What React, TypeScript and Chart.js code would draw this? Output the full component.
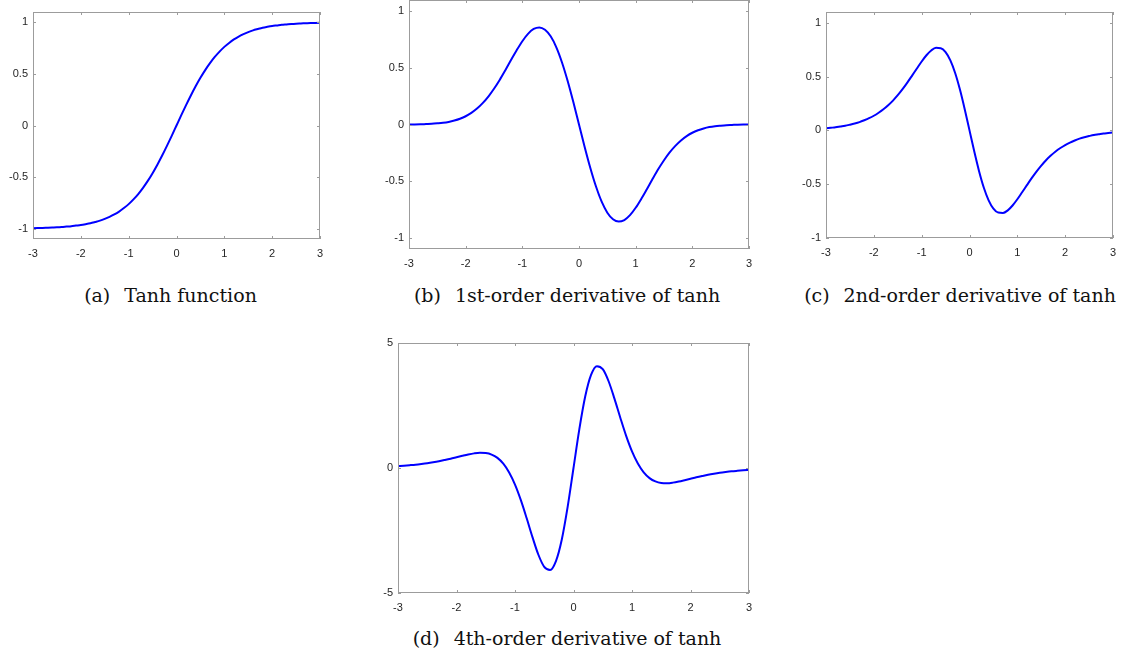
import React, { useEffect, useRef } from "react";
import { Chart, registerables } from "chart.js";

Chart.register(...registerables);

// ---------------- data ----------------
const X = [
  -3, -2.9, -2.8, -2.7, -2.6, -2.5, -2.4, -2.3, -2.2, -2.1,
  -2, -1.9, -1.8, -1.7, -1.6, -1.5, -1.4, -1.3, -1.2, -1.1,
  -1, -0.9, -0.8, -0.7, -0.6, -0.5, -0.4, -0.3, -0.2, -0.1,
  0, 0.1, 0.2, 0.3, 0.4, 0.5, 0.6, 0.7, 0.8, 0.9,
  1, 1.1, 1.2, 1.3, 1.4, 1.5, 1.6, 1.7, 1.8, 1.9,
  2, 2.1, 2.2, 2.3, 2.4, 2.5, 2.6, 2.7, 2.8, 2.9, 3,
];

const TANH = [
  -0.995, -0.994, -0.993, -0.991, -0.989, -0.987, -0.984, -0.98, -0.976, -0.97,
  -0.964, -0.956, -0.947, -0.935, -0.922, -0.905, -0.885, -0.862, -0.834, -0.8,
  -0.762, -0.716, -0.664, -0.604, -0.537, -0.462, -0.38, -0.291, -0.197, -0.1,
  0, 0.1, 0.197, 0.291, 0.38, 0.462, 0.537, 0.604, 0.664, 0.716,
  0.762, 0.8, 0.834, 0.862, 0.885, 0.905, 0.922, 0.935, 0.947, 0.956,
  0.964, 0.97, 0.976, 0.98, 0.984, 0.987, 0.989, 0.991, 0.993, 0.994, 0.995,
];

const DERIV1 = [
  0.001, 0.001, 0.002, 0.004, 0.006, 0.01, 0.015, 0.023, 0.035, 0.051,
  0.073, 0.103, 0.141, 0.189, 0.247, 0.316, 0.394, 0.48, 0.569, 0.656,
  0.736, 0.801, 0.844, 0.858, 0.837, 0.779, 0.682, 0.548, 0.384, 0.198,
  0, -0.198, -0.384, -0.548, -0.682, -0.779, -0.837, -0.858, -0.844, -0.801,
  -0.736, -0.656, -0.569, -0.48, -0.394, -0.316, -0.247, -0.189, -0.141, -0.103,
  -0.073, -0.051, -0.035, -0.023, -0.015, -0.01, -0.006, -0.004, -0.002, -0.001, -0.001,
];

const DERIV2 = [
  0.019, 0.024, 0.029, 0.036, 0.043, 0.053, 0.064, 0.077, 0.094, 0.113,
  0.136, 0.164, 0.196, 0.234, 0.277, 0.327, 0.383, 0.444, 0.509, 0.575,
  0.64, 0.698, 0.743, 0.767, 0.764, 0.727, 0.65, 0.533, 0.379, 0.197,
  0, -0.197, -0.379, -0.533, -0.65, -0.727, -0.764, -0.767, -0.743, -0.698,
  -0.64, -0.575, -0.509, -0.444, -0.383, -0.327, -0.277, -0.234, -0.196, -0.164,
  -0.136, -0.113, -0.094, -0.077, -0.064, -0.053, -0.043, -0.036, -0.029, -0.024, -0.019,
];

const DERIV4 = [
  0.076, 0.092, 0.112, 0.134, 0.162, 0.193, 0.23, 0.272, 0.321, 0.373,
  0.43, 0.487, 0.541, 0.585, 0.609, 0.599, 0.538, 0.404, 0.173, -0.179,
  -0.665, -1.286, -2.012, -2.775, -3.47, -3.952, -4.075, -3.722, -2.858, -1.556,
  0, 1.556, 2.858, 3.722, 4.075, 3.952, 3.47, 2.775, 2.012, 1.286,
  0.665, 0.179, -0.173, -0.404, -0.538, -0.599, -0.609, -0.585, -0.541, -0.487,
  -0.43, -0.373, -0.321, -0.272, -0.23, -0.193, -0.162, -0.134, -0.112, -0.092, -0.076,
];

const X_TICKS = [-3, -2, -1, 0, 1, 2, 3];
const Y_TICKS_UNIT = [-1, -0.5, 0, 0.5, 1];
const Y_TICKS_D4 = [-5, 0, 5];

const CAPTION_A = ["(a)", "Tanh function"];
const CAPTION_B = ["(b)", "1st-order derivative of tanh"];
const CAPTION_C = ["(c)", "2nd-order derivative of tanh"];
const CAPTION_D = ["(d)", "4th-order derivative of tanh"];

// ---------------- layout ----------------
const Y_AXIS_W = 40;
const X_AXIS_H = 30;
const PAD_TOP = 15;
const PAD_RIGHT = 15;
const FRAME_COLOR = "#9c9c9c";
const TICK_COLOR = "#262626";

type PanelSpec = {
  L: number;
  T: number;
  R: number;
  B: number;
  ymin: number;
  ymax: number;
  yTicks: number[];
  values: number[];
};

const framePlugin = {
  id: "matlabFrame",
  afterDraw(chart: any) {
    const { ctx, chartArea: a, scales } = chart;
    ctx.save();
    ctx.strokeStyle = FRAME_COLOR;
    ctx.lineWidth = 1;
    ctx.strokeRect(a.left + 0.5, a.top + 0.5, a.right - a.left - 1, a.bottom - a.top - 1);
    const tl = 3;
    ctx.beginPath();
    scales.x.ticks.forEach((t: any) => {
      const px = Math.round(scales.x.getPixelForValue(t.value)) + 0.5;
      ctx.moveTo(px, a.bottom);
      ctx.lineTo(px, a.bottom - tl);
      ctx.moveTo(px, a.top);
      ctx.lineTo(px, a.top + tl);
    });
    scales.y.ticks.forEach((t: any) => {
      const py = Math.round(scales.y.getPixelForValue(t.value)) + 0.5;
      ctx.moveTo(a.left, py);
      ctx.lineTo(a.left + tl, py);
      ctx.moveTo(a.right, py);
      ctx.lineTo(a.right - tl, py);
    });
    ctx.stroke();
    ctx.restore();
  },
};

function Panel({ spec }: { spec: PanelSpec }) {
  const ref = useRef<HTMLCanvasElement>(null);
  const w = spec.R - spec.L + Y_AXIS_W + PAD_RIGHT;
  const h = spec.B - spec.T + PAD_TOP + X_AXIS_H;
  const left = spec.L - Y_AXIS_W;
  const top = spec.T - PAD_TOP;

  useEffect(() => {
    const tickFont = { family: "'Liberation Sans', Arial, sans-serif", size: 11 };
    const chart = new Chart(ref.current!, {
      type: "line",
      data: {
        datasets: [
          {
            data: X.map((x, i) => ({ x, y: spec.values[i] })),
            borderColor: "#0000ff",
            borderWidth: 2,
            pointRadius: 0,
            fill: false,
            cubicInterpolationMode: "monotone",
          },
        ],
      },
      options: {
        responsive: false,
        animation: false,
        devicePixelRatio: 1,
        layout: { padding: { top: PAD_TOP, right: PAD_RIGHT, left: 0, bottom: 0 } },
        plugins: { legend: { display: false }, tooltip: { enabled: false } },
        scales: {
          x: {
            type: "linear",
            min: -3,
            max: 3,
            grid: { display: false, drawTicks: false },
            border: { display: false },
            afterBuildTicks: (scale: any) => {
              scale.ticks = X_TICKS.map((v) => ({ value: v }));
            },
            afterFit: (scale: any) => {
              scale.height = X_AXIS_H;
            },
            ticks: {
              color: TICK_COLOR,
              font: tickFont,
              padding: 8,
              maxRotation: 0,
              autoSkip: false,
              callback: (v: any) => String(v),
            },
          },
          y: {
            type: "linear",
            min: spec.ymin,
            max: spec.ymax,
            grid: { display: false, drawTicks: false },
            border: { display: false },
            afterBuildTicks: (scale: any) => {
              scale.ticks = spec.yTicks.map((v) => ({ value: v }));
            },
            afterFit: (scale: any) => {
              scale.width = Y_AXIS_W;
            },
            ticks: {
              color: TICK_COLOR,
              font: tickFont,
              padding: 5,
              autoSkip: false,
              callback: (v: any) => String(v),
            },
          },
        },
      },
      plugins: [framePlugin],
    } as any);
    return () => chart.destroy();
  }, []);

  return (
    <canvas
      ref={ref}
      width={w}
      height={h}
      style={{ position: "absolute", left, top, width: w, height: h }}
    />
  );
}

function Caption({ cx, cy, parts }: { cx: number; cy: number; parts: string[] }) {
  return (
    <div
      style={{
        position: "absolute",
        left: cx,
        top: cy - 11,
        transform: "translateX(-50%)",
        whiteSpace: "nowrap",
        fontFamily: "'DejaVu Serif', serif",
        fontSize: 19,
        lineHeight: "22px",
        color: "#111",
      }}
    >
      <span>{parts[0]}</span>
      <span style={{ marginLeft: 14 }}>{parts[1]}</span>
    </div>
  );
}

const PANEL_A: PanelSpec = { L: 33, T: 12, R: 320, B: 239, ymin: -1.1, ymax: 1.1, yTicks: Y_TICKS_UNIT, values: TANH };
const PANEL_B: PanelSpec = { L: 409, T: 0, R: 749, B: 249, ymin: -1.1, ymax: 1.1, yTicks: Y_TICKS_UNIT, values: DERIV1 };
const PANEL_C: PanelSpec = { L: 826, T: 12, R: 1113, B: 238, ymin: -1, ymax: 1.1, yTicks: Y_TICKS_UNIT, values: DERIV2 };
const PANEL_D: PanelSpec = { L: 398, T: 343, R: 749, B: 593, ymin: -5, ymax: 5, yTicks: Y_TICKS_D4, values: DERIV4 };

export default function App() {
  return (
    <div
      style={{
        position: "absolute",
        left: 0,
        top: 0,
        width: 1128,
        height: 654,
        overflow: "hidden",
        background: "#ffffff",
      }}
    >
      <Panel spec={PANEL_A} />
      <Panel spec={PANEL_B} />
      <Panel spec={PANEL_C} />
      <Panel spec={PANEL_D} />
      <Caption cx={170.5} cy={295} parts={CAPTION_A} />
      <Caption cx={567} cy={295} parts={CAPTION_B} />
      <Caption cx={960} cy={295} parts={CAPTION_C} />
      <Caption cx={567} cy={638} parts={CAPTION_D} />
    </div>
  );
}
